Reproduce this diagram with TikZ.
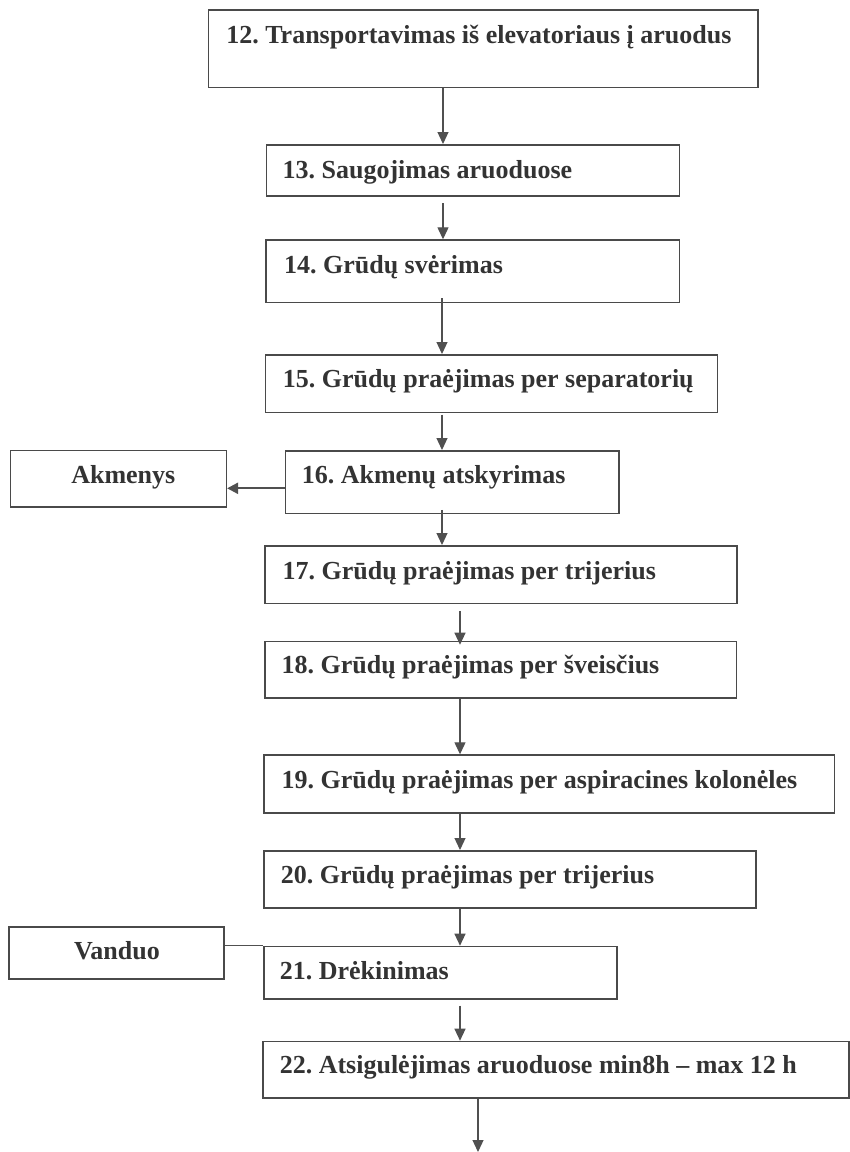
\documentclass[tikz,border=0pt]{standalone}
\usepackage{fontspec}
\setmainfont{Liberation Serif}
\usetikzlibrary{arrows.meta,calc}
\definecolor{edgec}{HTML}{4A4A4A}
\definecolor{linec}{HTML}{505050}
\definecolor{textc}{HTML}{333333}
\tikzset{
  box/.style={draw=edgec, line width=1.6pt, inner sep=0pt, font=\fontsize{26}{30}\selectfont\bfseries, text=textc},
  arr/.style={draw=linec, line width=1.2pt, -{Triangle[width=11pt,length=12pt]}},
  thickarr/.style={draw=linec, line width=2.2pt, -{Triangle[width=11pt,length=11pt]}},
  conn/.style={draw=linec, line width=1.4pt}
}
% name, left, top, width, text height, text depth, left pad, text
\newcommand\flowbox[8]{%
  \node[box, anchor=north west, text height=#5pt, text depth=#6pt] (#1) at (#2,-#3)
    {\makebox[#4pt][l]{\hspace*{#7pt}#8}};}
\begin{document}
\frenchspacing
\begin{tikzpicture}[x=1pt,y=1pt]
\useasboundingbox (0,0) rectangle (850,-1152);
\fill[white] (0,0) rectangle (850,-1152);

\flowbox{b12}{207.7}{9.3}{549.3}{33.4}{43.8}{17.8}{12. Transportavimas iš elevatoriaus į aruodus}
\flowbox{b13}{265.5}{144}{413.1}{33.3}{18}{16.3}{13. Saugojimas aruoduose}
\flowbox{b14}{265.3}{239.3}{413.3}{33}{29.4}{18}{14. Grūdų svėrimas}
\flowbox{b15}{264.5}{354}{452}{32.7}{25}{17.5}{15. Grūdų praėjimas per separatorių}
\flowbox{b16}{284.5}{450}{333.5}{32.7}{30}{16.5}{16. Akmenų atskyrimas}
\flowbox{akm}{9.8}{449.5}{215.7}{33.2}{23.3}{60.7}{Akmenys}
\flowbox{b17}{264}{545}{472}{34}{23.7}{17.8}{17. Grūdų praėjimas per trijerius}
\flowbox{b18}{264}{640.7}{471.5}{31.6}{25}{16.8}{18. Grūdų praėjimas per šveisčius}
\flowbox{b19}{263.4}{754.3}{570.2}{33}{25}{17.4}{19. Grūdų praėjimas per aspiracines kolonėles}
\flowbox{b20}{263}{850}{492}{32.3}{25}{17}{20. Grūdų praėjimas per trijerius}
\flowbox{van}{8.1}{926}{215.2}{32.3}{20}{65.1}{Vanduo}
\flowbox{b21}{263}{945.7}{353.3}{32.6}{20}{16}{21. Drėkinimas}
\flowbox{b22}{262.3}{1040.7}{585.7}{32}{24.6}{16.7}{22. Atsigulėjimas aruoduose min8h – max 12 h}

\coordinate (xa) at (443,0);
\coordinate (xb) at (442,0);
\coordinate (xc) at (460,0);
\coordinate (xd) at (478,0);
\coordinate (ya) at (0,-488.3);
\coordinate (endpt) at (478,-1152);

\draw[arr] (b12.south -| xa) -- (b13.north -| xa);
\draw[arr, shorten <=6.4pt] (b13.south -| xa) -- (b14.north -| xa);
\draw[arr, shorten <=-5pt] (b14.south -| xb) -- (b15.north -| xb);
\draw[arr, shorten <=1.3pt] (b15.south -| xb) -- (b16.north -| xb);
\draw[arr, shorten <=-4.4pt] (b16.south -| xb) -- (b17.north -| xb);
\draw[thickarr] (b16.west |- ya) -- (akm.east |- ya);
\draw[arr, shorten <=6.6pt, shorten >=-4pt] (b17.south -| xc) -- (b18.north -| xc);
\draw[arr] (b18.south -| xc) -- (b19.north -| xc);
\draw[arr] (b19.south -| xc) -- (b20.north -| xc);
\draw[arr] (b20.south -| xc) -- (b21.north -| xc);
\draw[conn] (van.east |- b21.north west) -- (b21.north west);
\draw[arr, shorten <=5.7pt] (b21.south -| xc) -- (b22.north -| xc);
\draw[arr] (b22.south -| xd) -- (endpt);
\end{tikzpicture}
\end{document}
